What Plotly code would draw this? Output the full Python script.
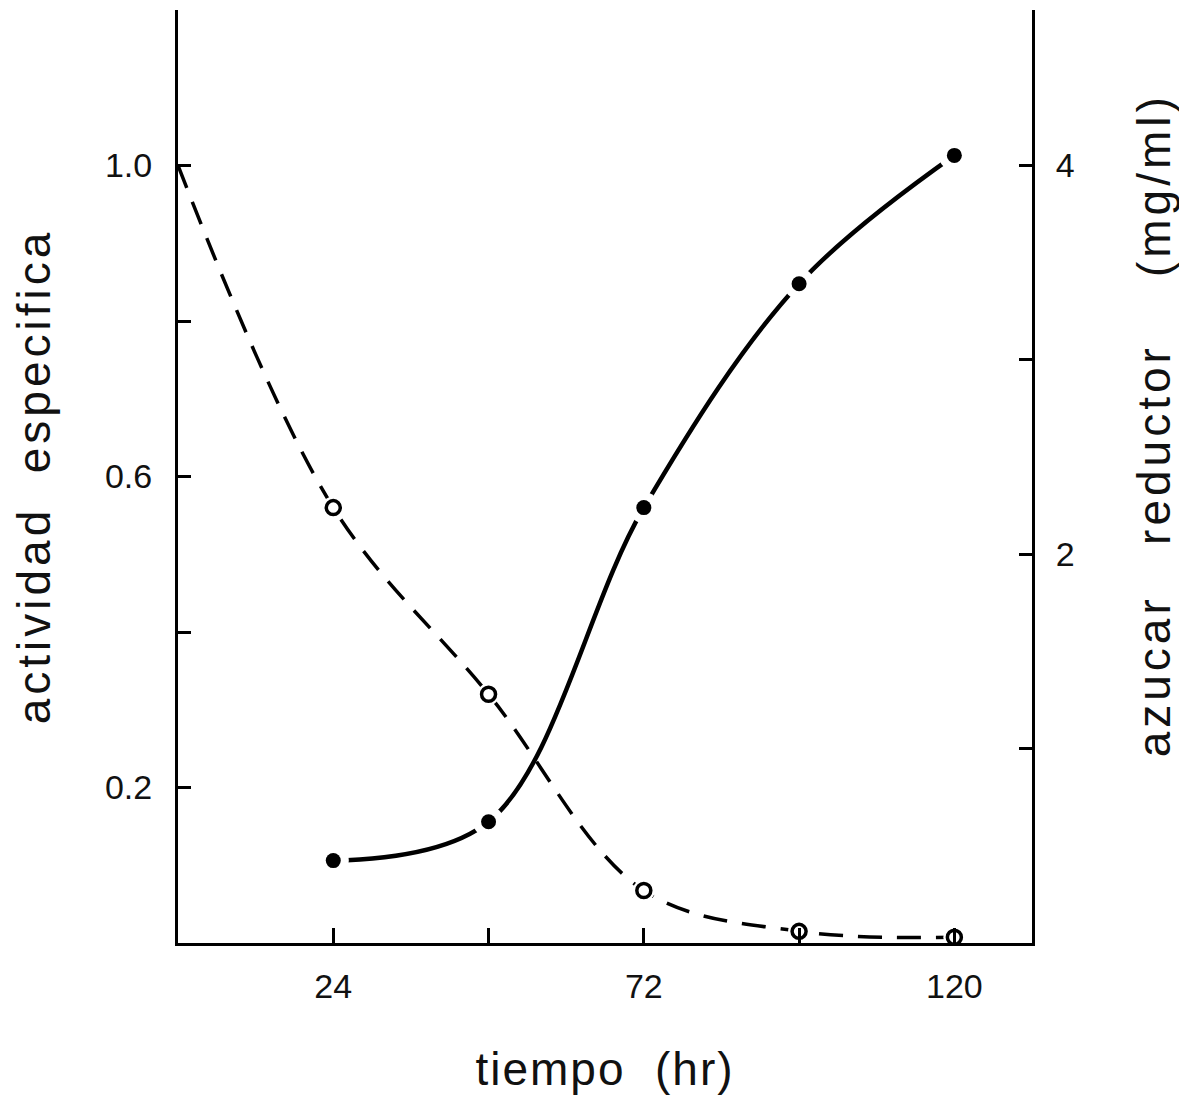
import plotly.graph_objects as go

# Data
activity_time = [24, 48, 72, 96, 120]
activity = [0.106, 0.156, 0.56, 0.848, 1.013]          # actividad especifica (left axis)

sugar_time = [0, 24, 48, 72, 96, 120]
sugar = [4.0, 2.24, 1.28, 0.27, 0.06, 0.03]             # azucar reductor mg/ml (right axis)

x_tickvals = [24, 48, 72, 96, 120]
x_ticktext = ["24", "", "72", "", "120"]
y_tickvals = [0.2, 0.4, 0.6, 0.8, 1.0]
y_ticktext = ["0.2", "", "0.6", "", "1.0"]
y2_tickvals = [1, 2, 3, 4]
y2_ticktext = ["", "2", "", "4"]

FONT = "Liberation Sans, Arial, Helvetica, sans-serif"
TXT = "#111"

fig = go.Figure()

# lines
fig.add_trace(go.Scatter(
    x=sugar_time, y=sugar, yaxis="y2", mode="lines",
    line=dict(color="black", width=3.5, shape="spline", dash="24px,15px"),
    showlegend=False, hoverinfo="skip",
))
fig.add_trace(go.Scatter(
    x=activity_time, y=activity, yaxis="y", mode="lines",
    line=dict(color="black", width=4.5, shape="spline"),
    showlegend=False, hoverinfo="skip",
))
# white halos that open small gaps in the lines around the points
fig.add_trace(go.Scatter(
    x=activity_time, y=activity, yaxis="y", mode="markers",
    marker=dict(size=31, color="white", line=dict(width=0)),
    showlegend=False, hoverinfo="skip",
))
fig.add_trace(go.Scatter(
    x=sugar_time[1:], y=sugar[1:], yaxis="y2", mode="markers",
    marker=dict(size=22, color="white", line=dict(width=0)),
    showlegend=False, hoverinfo="skip",
))
# markers
fig.add_trace(go.Scatter(
    x=activity_time, y=activity, yaxis="y", mode="markers",
    marker=dict(size=15, color="black", line=dict(width=0)),
    showlegend=False,
))
fig.add_trace(go.Scatter(
    x=sugar_time[1:], y=sugar[1:], yaxis="y2", mode="markers",
    marker=dict(size=14, color="white", line=dict(color="black", width=3.5)),
    showlegend=False,
))

axis_common = dict(
    showline=True, linecolor="black", linewidth=3, mirror=False,
    ticks="inside", tickcolor="black", tickwidth=3,
    showgrid=False, zeroline=False,
    tickfont=dict(family=FONT, size=34, color=TXT),
)

title_font = dict(family=FONT, size=46, color=TXT)

fig.update_layout(
    width=1179, height=1087,
    margin=dict(l=170, r=155, t=2, b=152),
    paper_bgcolor="white", plot_bgcolor="white",
    xaxis=dict(range=[0, 132], tickmode="array", tickvals=x_tickvals,
               ticktext=x_ticktext, ticklen=15, ticklabelstandoff=11,
               title=dict(text="tiempo\u00a0 (hr)", standoff=50, font=title_font),
               **axis_common),
    yaxis=dict(range=[0, 1.2], tickmode="array", tickvals=y_tickvals,
               ticktext=y_ticktext, ticklen=13, ticklabelstandoff=16,
               title=dict(text="actividad\u00a0 especifica", standoff=42, font=title_font),
               **axis_common),
    yaxis2=dict(range=[0, 4.8], overlaying="y", side="right", tickmode="array",
                tickvals=y2_tickvals, ticktext=y2_ticktext, ticklen=13,
                ticklabelstandoff=14, **axis_common),
    annotations=[dict(
        text="azucar\u00a0\u00a0 reductor\u00a0\u00a0\u00a0 (mg/ml)",
        xref="paper", yref="paper", x=1.143, y=0.555,
        xanchor="center", yanchor="middle", textangle=-90,
        showarrow=False, font=title_font,
    )],
)

post = """
var gd = document.getElementById('{plot_id}');
function spacing(){
  gd.querySelectorAll('.g-ytitle text, .annotation-text').forEach(function(t){
    t.style.letterSpacing = '4px';
  });
  gd.querySelectorAll('.g-xtitle text').forEach(function(t){
    t.style.letterSpacing = '2px';
  });
}
spacing();
gd.on('plotly_afterplot', spacing);
"""

fig.write_html("out.html", post_script=post)
